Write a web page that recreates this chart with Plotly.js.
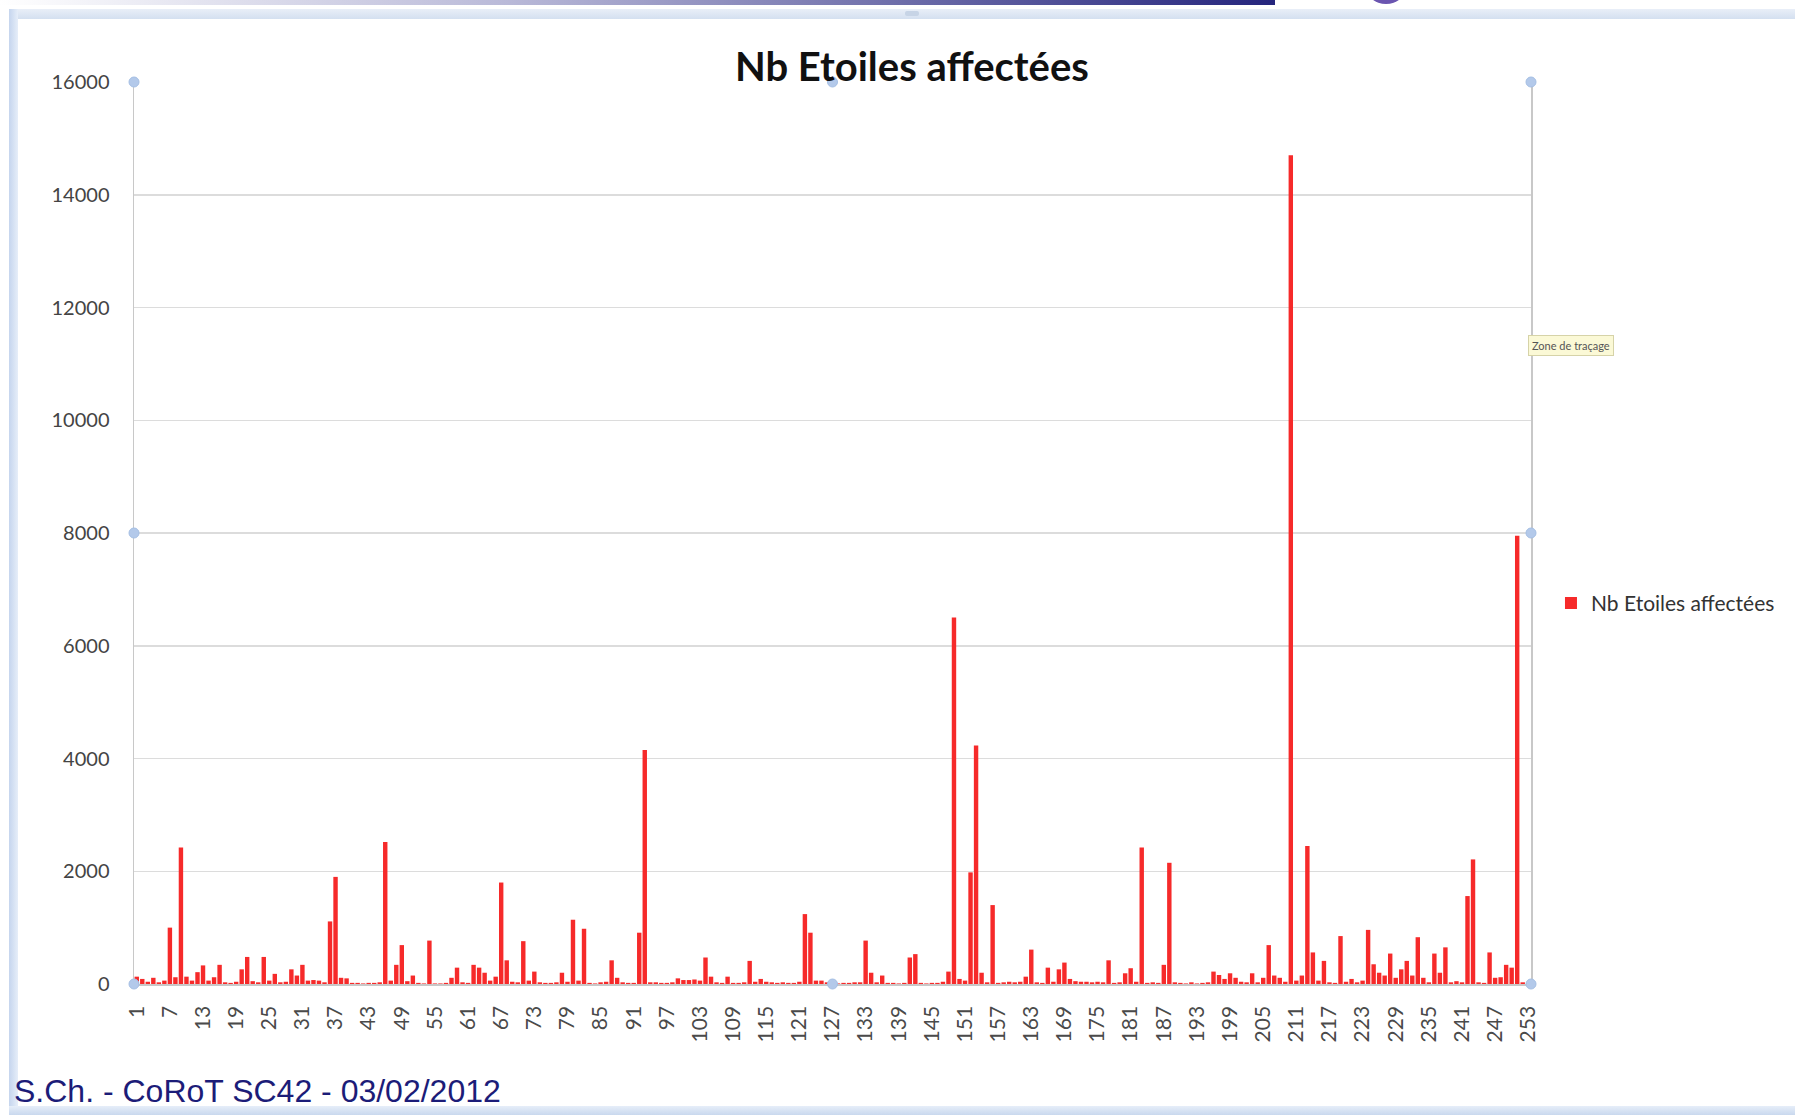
<!DOCTYPE html>
<html>
<head>
<meta charset="utf-8">
<script src="https://cdn.plot.ly/plotly-3.0.1.min.js"></script>
<style>
  html, body { margin: 0; padding: 0; background: #ffffff; width: 1795px; height: 1115px; overflow: hidden; }
  #chart { position: absolute; left: 0; top: 0; width: 1795px; height: 1115px; }
  .deco { position: absolute; pointer-events: none; }
  #topstrip { left: 0; top: 0; width: 1275px; height: 5px; background: linear-gradient(to right, #ffffff 0%, #b9b9d8 40%, #25257d 100%); }
  #topcircle { left: 1366px; top: -30px; width: 40px; height: 34px; border-radius: 50%; background: #6a55b0; }
  #framebar { left: 10px; top: 9px; width: 1785px; height: 10px; background: linear-gradient(to bottom, #e9eff8, #d4e0f0); }
  #leftbar { left: 9px; top: 9px; width: 9px; height: 1100px; background: linear-gradient(to right, #c5d5ee, #e6eef9); }
  #bottombar { left: 9px; top: 1106px; width: 1786px; height: 9px; background: linear-gradient(to bottom, #e6eef9, #c9d8ee); }
  #handle { left: 905px; top: 11px; width: 14px; height: 5px; background: #c7d4e6; border-radius: 2px; }
  #footer { left: 14px; top: 1073px; font-family: "Liberation Sans", Arial, sans-serif; font-size: 32px; color: #1c1c78; white-space: nowrap; }
</style>
</head>
<body>
<div id="chart"></div>
<div class="deco" id="topstrip"></div>
<div class="deco" id="topcircle"></div>
<div class="deco" id="framebar"></div>
<div class="deco" id="handle"></div>
<div class="deco" id="leftbar"></div>
<div class="deco" id="bottombar"></div>
<div class="deco" id="footer">S.Ch. - CoRoT SC42 - 03/02/2012</div>
<script>
// ---- Data ----
const seriesName = "Nb Etoiles affectées";

// categories 1..253
const categories = [
  "1","2","3","4","5","6","7","8","9","10","11","12","13","14","15","16","17","18","19","20",
  "21","22","23","24","25","26","27","28","29","30","31","32","33","34","35","36","37","38","39","40",
  "41","42","43","44","45","46","47","48","49","50","51","52","53","54","55","56","57","58","59","60",
  "61","62","63","64","65","66","67","68","69","70","71","72","73","74","75","76","77","78","79","80",
  "81","82","83","84","85","86","87","88","89","90","91","92","93","94","95","96","97","98","99","100",
  "101","102","103","104","105","106","107","108","109","110","111","112","113","114","115","116","117","118","119","120",
  "121","122","123","124","125","126","127","128","129","130","131","132","133","134","135","136","137","138","139","140",
  "141","142","143","144","145","146","147","148","149","150","151","152","153","154","155","156","157","158","159","160",
  "161","162","163","164","165","166","167","168","169","170","171","172","173","174","175","176","177","178","179","180",
  "181","182","183","184","185","186","187","188","189","190","191","192","193","194","195","196","197","198","199","200",
  "201","202","203","204","205","206","207","208","209","210","211","212","213","214","215","216","217","218","219","220",
  "221","222","223","224","225","226","227","228","229","230","231","232","233","234","235","236","237","238","239","240",
  "241","242","243","244","245","246","247","248","249","250","251","252","253"
];

const nbEtoiles = [
  // 1-20
  130, 90, 40, 110, 30, 60, 1000, 120, 2420, 130, 60, 210, 330, 60, 120, 340, 30, 20, 40, 260,
  // 21-40
  480, 50, 30, 480, 60, 180, 30, 40, 260, 150, 340, 60, 70, 60, 30, 1110, 1900, 110, 100, 20,
  // 41-60
  20, 10, 20, 20, 30, 2520, 60, 340, 690, 50, 150, 20, 10, 770, 10, 10, 20, 110, 290, 30,
  // 61-80
  20, 340, 290, 200, 60, 130, 1800, 420, 40, 30, 760, 60, 220, 30, 20, 20, 30, 200, 40, 1140,
  // 81-100
  60, 980, 20, 10, 30, 40, 420, 110, 30, 20, 20, 910, 4150, 30, 30, 20, 20, 30, 100, 70,
  // 101-120
  70, 80, 60, 470, 130, 30, 20, 130, 20, 20, 30, 410, 40, 90, 40, 30, 20, 30, 20, 20,
  // 121-140
  40, 1240, 910, 60, 60, 30, 20, 10, 20, 20, 30, 30, 770, 200, 30, 150, 20, 20, 10, 20,
  // 141-160
  470, 530, 20, 10, 20, 20, 40, 220, 6500, 90, 60, 1980, 4230, 200, 30, 1400, 20, 30, 40, 30,
  // 161-180
  40, 130, 610, 30, 20, 290, 40, 260, 380, 90, 50, 40, 40, 30, 40, 30, 420, 20, 30, 190,
  // 181-200
  280, 40, 2420, 20, 30, 20, 340, 2150, 30, 20, 10, 30, 10, 20, 30, 220, 160, 90, 190, 110,
  // 201-220
  40, 30, 190, 30, 110, 690, 150, 110, 40, 14700, 60, 150, 2450, 560, 60, 410, 30, 20, 850, 40,
  // 221-240
  90, 30, 60, 960, 350, 200, 150, 540, 110, 260, 410, 150, 830, 110, 30, 540, 200, 650, 30, 50,
  // 241-253
  30, 1560, 2210, 30, 20, 560, 110, 120, 340, 290, 7950, 30, 20
];

// x tick labels shown every 6th category
const xTickLabels = ["1","7","13","19","25","31","37","43","49","55","61","67","73","79","85","91","97","103","109","115","121","127","133","139","145","151","157","163","169","175","181","187","193","199","205","211","217","223","229","235","241","247","253"];

const yTickValues = [0, 2000, 4000, 6000, 8000, 10000, 12000, 14000, 16000];

// ---- Chart ----
const fontFam = "Lato, 'Open Sans', sans-serif";
const handleColor = "#b3c9ea";

function handle(px, py) {
  return {
    type: "circle", xref: "paper", yref: "paper",
    xsizemode: "pixel", ysizemode: "pixel",
    xanchor: px, yanchor: py,
    x0: -5, x1: 5, y0: -5, y1: 5,
    fillcolor: handleColor, line: { color: "#a5bfe4", width: 1 }, layer: "above"
  };
}

const trace = {
  type: "bar",
  name: seriesName,
  x: categories,
  y: nbEtoiles,
  marker: { color: "#f62a2a", line: { width: 0 } },
  showlegend: true
};

const layout = {
  width: 1795,
  height: 1115,
  paper_bgcolor: "rgba(0,0,0,0)",
  plot_bgcolor: "#ffffff",
  margin: { l: 134, r: 264, t: 82, b: 131, pad: 0 },
  bargap: 0.2,
  title: {
    text: "<b>Nb Etoiles affectées</b>",
    font: { family: fontFam, size: 40, color: "#111111" },
    x: 0.508, xanchor: "center",
    y: 1 - 67 / 1115, yref: "container", yanchor: "middle"
  },
  xaxis: {
    type: "category",
    tickmode: "array",
    tickvals: xTickLabels,
    ticktext: xTickLabels,
    tickangle: -90,
    tickfont: { family: fontFam, size: 21, color: "#4a4a4a" },
    showgrid: false,
    showline: true,
    linecolor: "#c8c8c8",
    linewidth: 1.5,
    ticks: "",
    ticklabelstandoff: 12,
    zeroline: false,
    fixedrange: true
  },
  yaxis: {
    range: [0, 16000],
    tickmode: "array",
    tickvals: yTickValues,
    ticktext: yTickValues.map(String),
    tickfont: { family: fontFam, size: 20, color: "#444444" },
    showgrid: true,
    gridcolor: "#dcdcdc",
    gridwidth: 1.5,
    showline: true,
    linecolor: "#c8c8c8",
    linewidth: 1.5,
    mirror: true,
    ticks: "",
    ticklabelstandoff: 19,
    zeroline: false,
    fixedrange: true
  },
  legend: {
    x: 1.0143, xanchor: "left",
    y: 0.422, yanchor: "middle",
    font: { family: fontFam, size: 21, color: "#333333" },
    bgcolor: "rgba(0,0,0,0)",
    itemwidth: 30,
    tracegroupgap: 0
  },
  annotations: [
    {
      xref: "paper", yref: "paper",
      x: 1.0286, y: 0.708,
      xanchor: "center", yanchor: "middle",
      text: "Zone de traçage",
      showarrow: false,
      font: { family: fontFam, size: 11, color: "#555555" },
      bgcolor: "#fbf9d6",
      bordercolor: "#d6d3a8",
      borderwidth: 1,
      borderpad: 3
    }
  ],
  shapes: [
    handle(0, 1), handle(0.5, 1), handle(1, 1),
    handle(0, 0.5), handle(1, 0.5),
    handle(0, 0), handle(0.5, 0), handle(1, 0)
  ]
};

Plotly.newPlot("chart", [trace], layout, { displayModeBar: false, staticPlot: true });
</script>
</body>
</html>
